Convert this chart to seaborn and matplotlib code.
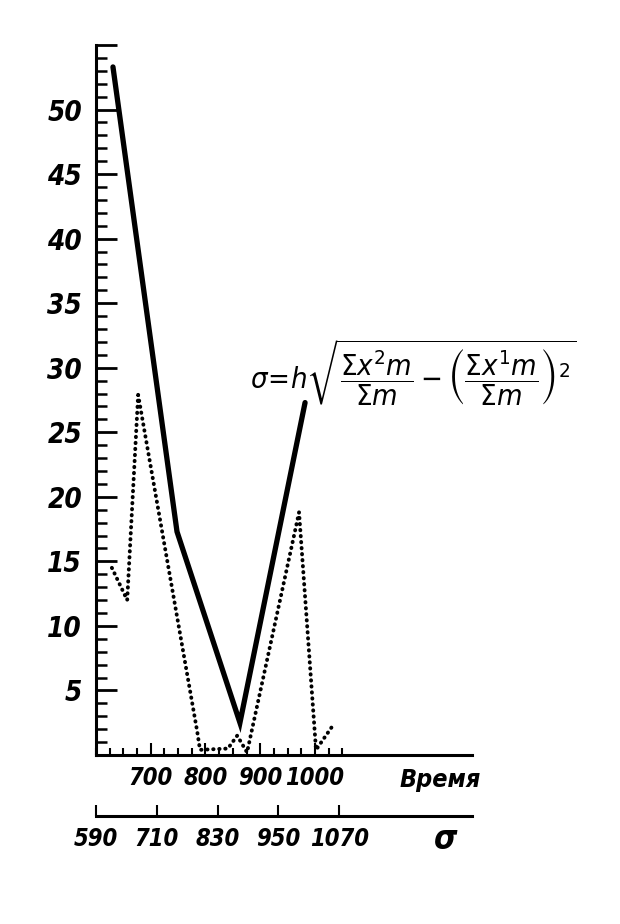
import pandas as pd
import matplotlib.pyplot as plt
import seaborn as sns
from matplotlib.ticker import MultipleLocator

# values
time_solid = [631, 748, 863, 982]
sigma_solid = [53.3, 17.3, 2.5, 27.3]

time_dotted = [629, 657, 677, 785, 790, 841, 858, 876, 971, 1002, 1033]
freq_dotted = [14.5, 12.0, 27.9, 1.8, 0.4, 0.5, 1.5, 0.2, 18.8, 0.4, 2.3]

y_ticks = [5, 10, 15, 20, 25, 30, 35, 40, 45, 50]
time_ticks = [700, 800, 900, 1000]
sigma_ticks = [590, 710, 830, 950, 1070]

solid = pd.DataFrame({"t": time_solid, "v": sigma_solid})
dotted = pd.DataFrame({"t": time_dotted, "v": freq_dotted})

sns.set_style("ticks")
plt.rcParams['font.family'] = ['DejaVu Sans']
plt.rcParams['font.stretch'] = 'condensed'
plt.rcParams['text.color'] = 'black'
plt.rcParams['xtick.color'] = 'black'
plt.rcParams['ytick.color'] = 'black'
plt.rcParams['axes.edgecolor'] = 'black'
plt.rcParams['mathtext.fontset'] = 'dejavusans'

fig = plt.figure(figsize=(6.2, 9.24), dpi=100)
ax = fig.add_axes([96/620, 1 - 755/924, 376/620, 710/924])

sns.lineplot(data=solid, x="t", y="v", ax=ax, color="black", lw=3.8,
             solid_joinstyle="miter")
sns.lineplot(data=dotted, x="t", y="v", ax=ax, color="black", lw=2.8,
             linestyle=(0, (0.1, 1.45)), dash_capstyle="round")

ax.set_xlim(600, 1287)
ax.set_ylim(0, 55)
ax.set_xlabel("")
ax.set_ylabel("")
for s in ["top", "right"]:
    ax.spines[s].set_visible(False)
ax.spines["left"].set_linewidth(2.2)
ax.spines["bottom"].set_linewidth(2.2)

# y axis: ticks pointing inward, major every 5, minor every 1
ax.set_yticks(y_ticks + [55])
ax.set_yticklabels([str(v) for v in y_ticks] + [""])
ax.yaxis.set_minor_locator(MultipleLocator(1))
ax.tick_params(axis="y", which="major", direction="in", length=15, width=2, pad=10,
               labelsize=20, left=True)
ax.tick_params(axis="y", which="minor", direction="in", length=8, width=1.8, left=True)

# time axis
ax.set_xticks(time_ticks)
ax.set_xticklabels([str(v) for v in time_ticks])
ax.set_xticks([t for t in range(600, 1075, 25) if t not in time_ticks], minor=True)
ax.tick_params(axis="x", which="major", direction="in", length=9, width=1.5, pad=8,
               labelsize=17, bottom=True)
ax.tick_params(axis="x", which="minor", direction="in", length=5, width=1.5, bottom=True)
for lab in ax.get_xticklabels() + ax.get_yticklabels():
    lab.set_fontstyle("italic")
    lab.set_fontweight("bold")

ax.text(1229, -1.0, "Время", ha="center", va="top", fontsize=18,
        fontstyle="italic", fontweight="bold")

# formula for sigma
ax.text(882, 29.6,
        r"$\sigma\!=\!h\sqrt{\dfrac{\Sigma x^2 m}{\Sigma m}-\left(\dfrac{\Sigma x^1 m}{\Sigma m}\right)^2}$",
        ha="left", va="center", fontsize=21)

# second scale for sigma below
ax2 = fig.add_axes([96/620, 1 - 816/924, 376/620, 0.001])
ax2.set_xlim(592, 1332)
ax2.set_yticks([])
for s in ["top", "right", "left"]:
    ax2.spines[s].set_visible(False)
ax2.spines["bottom"].set_linewidth(2.2)
ax2.set_xticks(sigma_ticks)
ax2.set_xticklabels([str(v) for v in sigma_ticks])
ax2.tick_params(axis="x", direction="in", length=8, width=1.5, pad=8, labelsize=17,
                bottom=True)
for lab in ax2.get_xticklabels():
    lab.set_fontstyle("italic")
    lab.set_fontweight("bold")
ax2.text(1279, -8, "σ", transform=ax2.get_xaxis_transform(), ha="center", va="top",
         fontsize=24, fontstyle="italic", fontweight="bold")

plt.savefig("out.png", dpi=100)
